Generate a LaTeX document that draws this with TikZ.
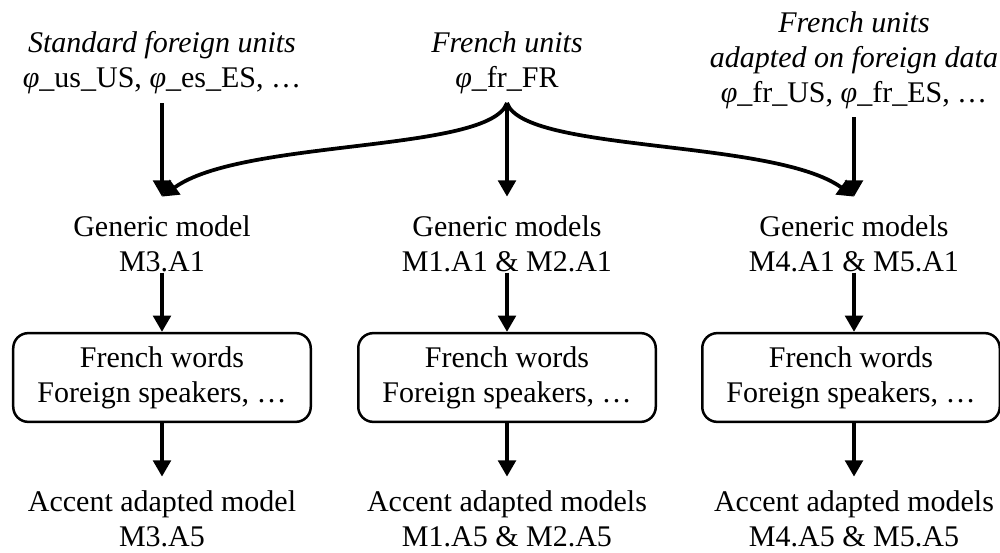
\documentclass[tikz,border=0pt]{standalone}
\usepackage{fontspec}
\setmainfont{Liberation Serif}
\usetikzlibrary{arrows.meta}
\begin{document}
\begin{tikzpicture}[
                  x=0.4pt, y=-0.4pt,
                  font=\fontsize{12pt}{14pt}\selectfont,
                  units/.style={align=center},
                  model/.style={align=center, inner sep=0pt},
                  corpus/.style={draw, line width=1pt, rounded corners=6pt, align=center,
                                 minimum width=119pt, minimum height=35.5pt},
                  adapt/.style={line width=1.5pt, -{Triangle[length=6.5pt,width=7pt]}}
                ]
                  \useasboundingbox (0,0) rectangle (1000,553);
                  \node[units] (stdunits) at (162,63)
                    {\textit{Standard foreign units}\\\textit{φ}\_us\_US, \textit{φ}\_es\_ES, …};
                  \node[units] (frunits) at (507,63)
                    {\textit{French units}\\\textit{φ}\_fr\_FR};
                  \node[units] (adunits) at (854,60)
                    {\textit{French units}\\\textit{adapted on foreign data}\\\textit{φ}\_fr\_US, \textit{φ}\_fr\_ES, …};
                  \node[model] (gen3) at (162,244) {Generic model\\M3.A1};
                  \node[model] (gen12) at (507,244) {Generic models\\M1.A1 \& M2.A1};
                  \node[model] (gen45) at (854,244) {Generic models\\M4.A1 \& M5.A1};
                  \node[corpus] (words3) at (162,377.5) {French words\\Foreign speakers, …};
                  \node[corpus] (words12) at (507,377.5) {French words\\Foreign speakers, …};
                  \node[corpus] (words45) at (851,377.5) {French words\\Foreign speakers, …};
                  \node[model] (acc3) at (162,519) {Accent adapted model\\M3.A5};
                  \node[model] (acc12) at (507,519) {Accent adapted models\\M1.A5 \& M2.A5};
                  \node[model] (acc45) at (854,519) {Accent adapted models\\M4.A5 \& M5.A5};
                  \draw[adapt] (stdunits.south) -- ([yshift=7.5pt]gen3.north);
                  \draw[adapt] (frunits.south) -- ([yshift=7.5pt]gen12.north);
                  \draw[adapt] (frunits.south) .. controls +(-17,50) and +(80,-58) .. ([yshift=7.5pt]gen3.north);
                  \draw[adapt] (frunits.south) .. controls +(17,50) and +(-80,-58) .. ([yshift=7.5pt]gen45.north);
                  \draw[adapt] (adunits.south) -- ([yshift=7.5pt]gen45.north);
                  \foreach \m in {3,12,45} {
                    \draw[adapt] (gen\m.south) -- (gen\m.south |- words\m.north);
                    \draw[adapt] (gen\m.south |- words\m.south) -- ([yshift=5.5pt]acc\m.north);
                  }
                \end{tikzpicture}
\end{document}
